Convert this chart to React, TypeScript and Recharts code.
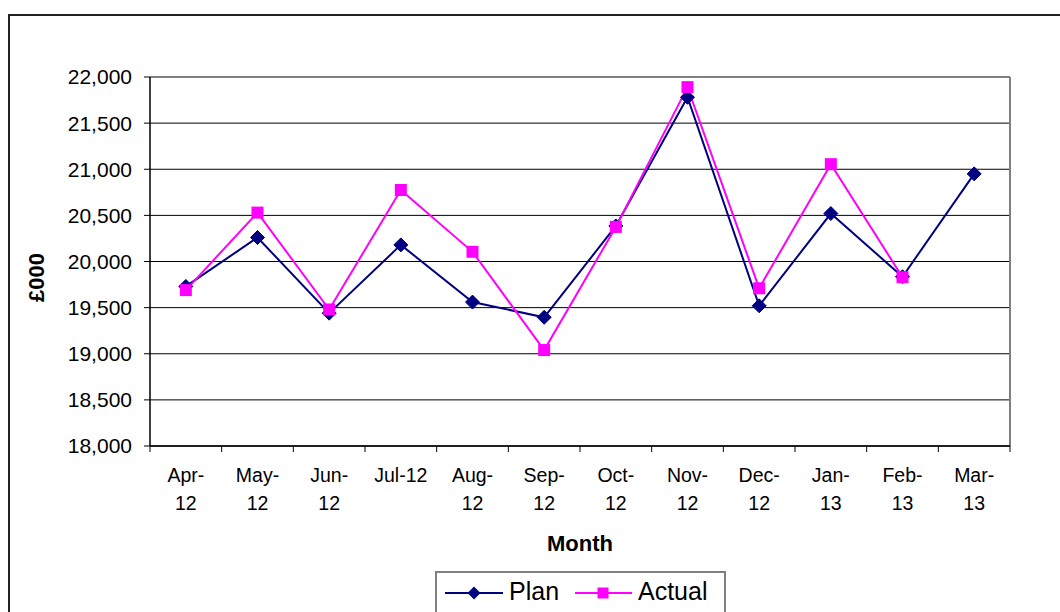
import React from 'react';
import {
  LineChart,
  Line,
  XAxis,
  YAxis,
  CartesianGrid,
  ReferenceLine,
  Legend,
  Label,
} from 'recharts';

// ---- data ----
const months = ['Apr-12', 'May-12', 'Jun-12', 'Jul-12', 'Aug-12', 'Sep-12', 'Oct-12', 'Nov-12', 'Dec-12', 'Jan-13', 'Feb-13', 'Mar-13'];
const tickLabels: string[][] = [
  ['Apr-', '12'], ['May-', '12'], ['Jun-', '12'], ['Jul-12'], ['Aug-', '12'], ['Sep-', '12'],
  ['Oct-', '12'], ['Nov-', '12'], ['Dec-', '12'], ['Jan-', '13'], ['Feb-', '13'], ['Mar-', '13'],
];
const plan = [19730, 20260, 19440, 20180, 19560, 19395, 20385, 21780, 19520, 20520, 19835, 20950];
const actual: (number | null)[] = [19690, 20530, 19480, 20775, 20105, 19040, 20375, 21890, 19710, 21055, 19830, null];
const yTicks = [18000, 18500, 19000, 19500, 20000, 20500, 21000, 21500, 22000];

const data = months.map((m, i) => ({ month: m, plan: plan[i], actual: actual[i] }));

// ---- layout ----
const W = 1060;
const H = 612;
const PLOT_LEFT = 150;
const PLOT_RIGHT = 1010;
const PLOT_TOP = 77;
const PLOT_BOTTOM = 446;
const PLOT_W = PLOT_RIGHT - PLOT_LEFT;
const PAD = PLOT_W / (2 * months.length);
const HALF = PAD;
const FONT = '"Liberation Sans", Arial, sans-serif';
const NAVY = '#000080';
const MAGENTA = '#FF00FF';

const MonthTick = (props: any) => {
  const { x, y, payload, index } = props;
  const i = payload && typeof payload.index === 'number' ? payload.index : index;
  const lines = tickLabels[i] || [String(payload.value)];
  const axisY = y - 6;
  return (
    <g>
      <line x1={x - HALF} x2={x - HALF} y1={axisY} y2={axisY + 6} stroke="#000" strokeWidth={1} />
      {i === months.length - 1 && (
        <line x1={x + HALF} x2={x + HALF} y1={axisY} y2={axisY + 6} stroke="#000" strokeWidth={1} />
      )}
      {lines.map((l, k) => (
        <text key={k} x={x} y={axisY + 36 + k * 28} textAnchor="middle" fontFamily={FONT} fontSize={19.5} fill="#000">
          {l}
        </text>
      ))}
    </g>
  );
};

const Diamond = (props: any) => {
  const { cx, cy } = props;
  if (cx == null || cy == null) return <g />;
  const r = 7;
  return <path d={`M${cx},${cy - r}L${cx + r},${cy}L${cx},${cy + r}L${cx - r},${cy}Z`} fill={NAVY} stroke={NAVY} strokeWidth={1} />;
};

const Square = (props: any) => {
  const { cx, cy, value } = props;
  if (cx == null || cy == null || value == null) return <g />;
  const r = 6;
  return <rect x={cx - r} y={cy - r} width={2 * r} height={2 * r} fill={MAGENTA} />;
};

const YTitle = (props: any) => {
  const vb = props.viewBox || { x: 0, y: PLOT_TOP, width: 150, height: PLOT_BOTTOM - PLOT_TOP };
  const cx = vb.x + 36;
  const cy = vb.y + vb.height / 2 + 16;
  return (
    <text
      x={cx}
      y={cy}
      transform={`rotate(-90, ${cx}, ${cy})`}
      textAnchor="middle"
      dominantBaseline="central"
      fontFamily={FONT}
      fontWeight="bold"
      fontSize={22}
      fill="#000"
    >
      £000
    </text>
  );
};

const LegendBox = () => (
  <div
    style={{
      width: 291,
      height: 60,
      border: '2px solid #808080',
      boxSizing: 'border-box',
      background: '#fff',
    }}
  >
    <svg width={287} height={56} style={{ display: 'block' }}>
      <line x1={8} x2={66} y1={20} y2={20} stroke={NAVY} strokeWidth={2} />
      <path d="M37,13.5L43.5,20L37,26.5L30.5,20Z" fill={NAVY} />
      <text x={72} y={27} fontFamily={FONT} fontSize={25} fill="#000">Plan</text>
      <line x1={138} x2={195} y1={20} y2={20} stroke={MAGENTA} strokeWidth={2} />
      <rect x={160.5} y={14.5} width={11} height={11} fill={MAGENTA} />
      <text x={201} y={27} fontFamily={FONT} fontSize={25} fill="#000">Actual</text>
    </svg>
  </div>
);

export default function App() {
  return (
    <div style={{ position: 'absolute', left: 0, top: 0, width: W, height: H, overflow: 'hidden', background: '#fff' }}>
      <div
        style={{
          position: 'absolute',
          left: 8,
          top: 14,
          width: W + 40,
          height: H + 40,
          border: '2px solid #222',
          boxSizing: 'border-box',
        }}
      />
      <div style={{ position: 'absolute', left: 0, top: 0 }}>
        <LineChart
          width={W}
          height={H}
          data={data}
          margin={{ top: PLOT_TOP, right: W - PLOT_RIGHT, bottom: 0, left: 0 }}
        >
          <CartesianGrid horizontal vertical={false} stroke="#000" strokeWidth={1} />
          <CartesianGrid horizontal={false} vertical verticalPoints={[PLOT_RIGHT]} stroke="#808080" strokeWidth={2} />
          <XAxis
            dataKey="month"
            type="category"
            padding={{ left: PAD, right: PAD }}
            height={H - PLOT_BOTTOM}
            axisLine={{ stroke: '#000', strokeWidth: 1.5 }}
            tickLine={false}
            tickSize={6}
            tickMargin={0}
            interval={0}
            tick={<MonthTick />}
          >
            <Label
              value="Month"
              position="insideTop"
              offset={89}
              style={{ fontFamily: FONT, fontWeight: 'bold', fontSize: 22, fill: '#000' }}
            />
          </XAxis>
          <YAxis
            width={PLOT_LEFT}
            domain={[18000, 22000]}
            ticks={yTicks}
            interval={0}
            allowDataOverflow
            axisLine={{ stroke: '#000', strokeWidth: 1.5 }}
            tickLine={{ stroke: '#000' }}
            tickSize={6}
            tickMargin={12}
            tick={{ fontFamily: FONT, fontSize: 21, fill: '#000' }}
            tickFormatter={(v: number) => v.toLocaleString('en-US')}
          >
            <Label content={<YTitle />} />
          </YAxis>
          <ReferenceLine y={22000} stroke="#808080" strokeWidth={2} />
          <Legend
            layout="horizontal"
            verticalAlign="middle"
            align="center"
            content={<LegendBox />}
            wrapperStyle={{ left: 435, top: 571, width: 291, height: 60 }}
          />
          <Line
            type="linear"
            dataKey="plan"
            name="Plan"
            stroke={NAVY}
            strokeWidth={2}
            dot={<Diamond />}
            activeDot={false}
            isAnimationActive={false}
          />
          <Line
            type="linear"
            dataKey="actual"
            name="Actual"
            stroke={MAGENTA}
            strokeWidth={2}
            dot={<Square />}
            activeDot={false}
            isAnimationActive={false}
          />
        </LineChart>
      </div>
    </div>
  );
}
